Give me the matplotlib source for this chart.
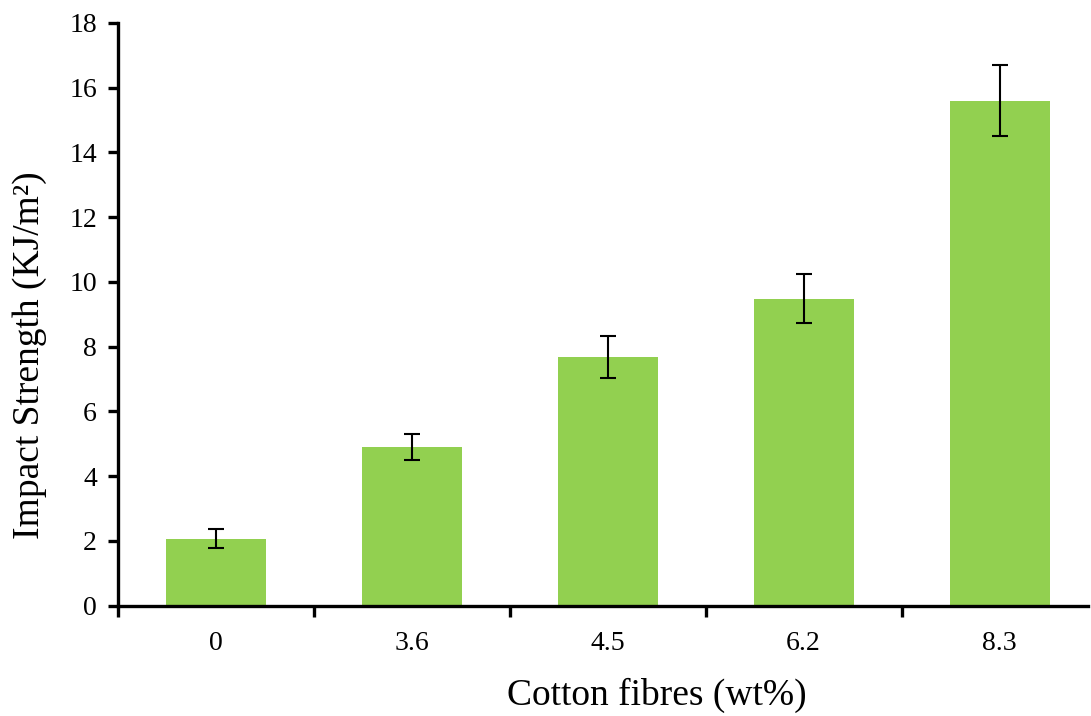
import matplotlib
matplotlib.use("Agg")
import matplotlib.pyplot as plt

categories = ["0", "3.6", "4.5", "6.2", "8.3"]
values = [2.07, 4.91, 7.69, 9.48, 15.6]
errors = [0.3, 0.4, 0.65, 0.75, 1.1]

plt.rcParams['font.family'] = ['Liberation Serif', 'DejaVu Serif']

fig = plt.figure(figsize=(10.91, 7.16), dpi=100)
ax = fig.add_axes([0.108, 0.154, 0.889, 0.814])

x = list(range(len(categories)))
ax.bar(x, values, width=0.51, color="#92D050", zorder=2)
ax.errorbar(x, values, yerr=errors, fmt="none", ecolor="black",
            elinewidth=1.5, capsize=6, capthick=1.5, zorder=3)

ax.set_xlim(-0.5, 4.45)
ax.set_ylim(0, 18)
ax.set_yticks(range(0, 19, 2))

ax.set_xticks([-0.5, 0.5, 1.5, 2.5, 3.5])
ax.set_xticklabels([])
ax.set_xticks(x, minor=True)
ax.set_xticklabels(categories, minor=True)
ax.tick_params(axis="x", which="major", direction="out", length=8, width=2.4)
ax.tick_params(axis="x", which="minor", length=0, pad=18, labelsize=20)
ax.tick_params(axis="y", direction="out", length=7, width=2.4, labelsize=20, pad=8)

for s in ["top", "right"]:
    ax.spines[s].set_visible(False)
for s in ["left", "bottom"]:
    ax.spines[s].set_linewidth(2.4)

ax.set_xlabel("Cotton fibres (wt%)", fontsize=27, labelpad=16)
ax.set_ylabel("Impact Strength (KJ/m²)", fontsize=27, labelpad=16)
ax.xaxis.label.set_x(0.556)
ax.yaxis.label.set_y(0.43)

fig.savefig("out.png", dpi=100)
